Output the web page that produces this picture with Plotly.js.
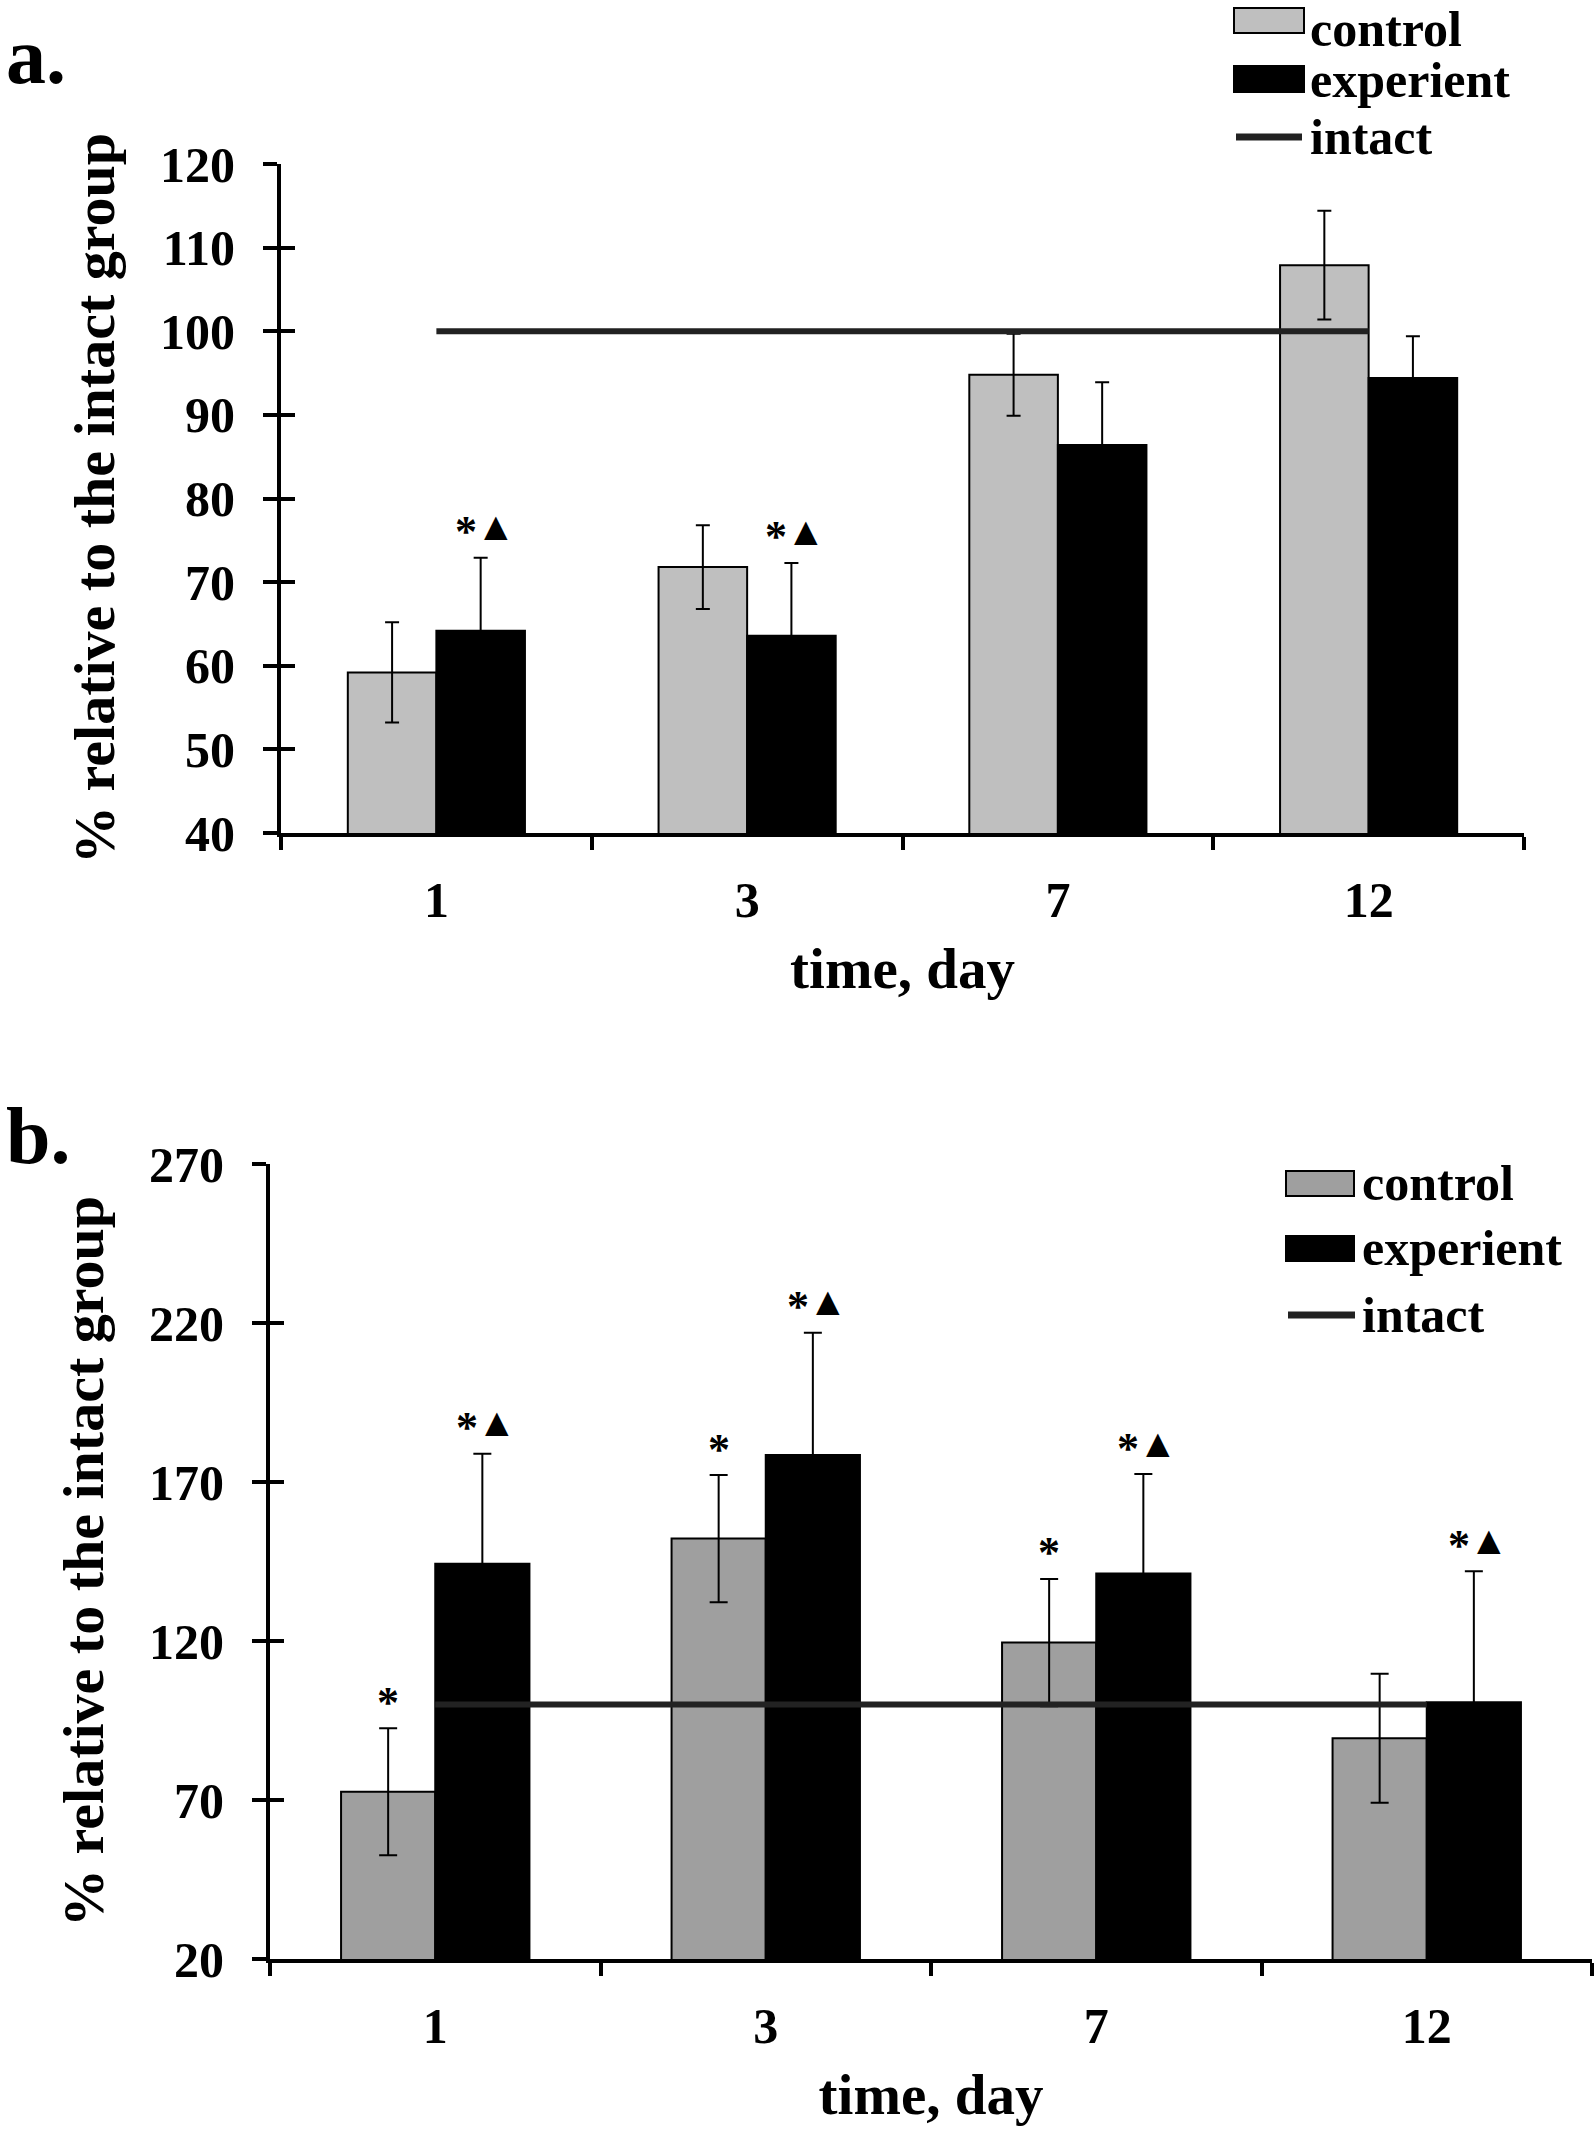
<!DOCTYPE html>
<html>
<head>
<meta charset="utf-8">
<script src="https://cdn.plot.ly/plotly-3.0.1.min.js"></script>
<style>html,body{margin:0;padding:0;background:#fff;}#chart{width:1594px;height:2132px;}</style>
</head>
<body>
<div id="chart"></div>
<script>
// ---- data ----
const days = ['1', '3', '7', '12'];
const seriesNames = ['control', 'experient', 'intact'];

const controlA = [59.2, 71.8, 94.8, 107.9];
const controlAErr = [6.0, 5.0, 4.9, 6.5];
const experientA = [64.2, 63.6, 86.4, 94.4];
const experientAErr = [8.7, 8.7, 7.5, 5.0];
const intactA = [100, 100, 100, 100];
const controlAMarks = ['', '', '', ''];
const experientAMarks = ['*▲', '*▲', '', ''];

const controlB = [72.6, 152.2, 119.5, 89.4];
const controlBErr = [20.0, 20.0, 20.0, 20.3];
const experientB = [144.3, 178.5, 141.2, 100.7];
const experientBErr = [34.6, 38.4, 31.3, 41.2];
const intactB = [100, 100, 100, 100];
const controlBMarks = ['*', '*', '*', ''];
const experientBMarks = ['*▲', '*▲', '*▲', '*▲'];

const yTitle = '% relative to the intact group';
const xTitle = 'time, day';
const panelLabels = ['a.', 'b.'];

// ---- layout geometry (pixels) ----
const W = 1594, H = 2132;
const px = v => v / W;
const py = v => 1 - v / H;
const BARGAP = 0.43;
const FONT = 'Liberation Serif';

const A = {x0: 281, x1: 1524, yTop: 164, yBot: 833};
const B = {x0: 270, x1: 1592, yTop: 1164, yBot: 1959};

function barTrace(name, x, y, err, color, xa, ya, capw) {
  return {
    type: 'bar', name: name, x: x, y: y, xaxis: xa, yaxis: ya,
    marker: {color: color, line: {color: '#000', width: 2}},
    error_y: {type: 'data', array: err, visible: true, color: '#000', thickness: 2, width: capw},
    showlegend: false, hoverinfo: 'x+y'
  };
}
function lineTrace(name, x, y, xa, ya) {
  return {type: 'scatter', mode: 'lines', name: name, x: x, y: y, xaxis: xa, yaxis: ya,
    line: {color: '#222', width: 6}, showlegend: false};
}

const data = [
  barTrace(seriesNames[0], days, controlA, controlAErr, '#bfbfbf', 'x', 'y', 7),
  barTrace(seriesNames[1], days, experientA, experientAErr, '#000000', 'x', 'y', 7),
  lineTrace(seriesNames[2], days, intactA, 'x', 'y'),
  barTrace(seriesNames[0], days, controlB, controlBErr, '#9f9f9f', 'x2', 'y2', 9),
  barTrace(seriesNames[1], days, experientB, experientBErr, '#000000', 'x2', 'y2', 9),
  lineTrace(seriesNames[2], days, intactB, 'x2', 'y2'),
  {type: 'scatter', x: [], y: [], xaxis: 'x', yaxis: 'y3', showlegend: false, hoverinfo: 'skip'},
  {type: 'scatter', x: [], y: [], xaxis: 'x2', yaxis: 'y4', showlegend: false, hoverinfo: 'skip'}
];

function xAxis(g, anchor, standoff) {
  return {
    domain: [px(g.x0), px(g.x1)], anchor: anchor, type: 'category',
    categoryorder: 'array', categoryarray: days, range: [-0.5, days.length - 0.5],
    tickson: 'boundaries', ticks: 'outside', ticklen: 13, tickwidth: 4, tickcolor: '#000',
    showline: true, linewidth: 4, linecolor: '#000', showgrid: false, zeroline: false,
    tickfont: {size: 50}, ticklabelstandoff: 20,
    title: {text: xTitle, font: {size: 57}, standoff: standoff},
    automargin: false
  };
}
function yAxis(g, anchor, range, dtick, standoff) {
  return {
    domain: [py(g.yBot), py(g.yTop)], anchor: anchor, range: range, dtick: dtick, tick0: range[0],
    ticks: 'outside', ticklen: 14, tickwidth: 4, tickcolor: '#000',
    showline: true, linewidth: 4, linecolor: '#000', showgrid: false, zeroline: false,
    tickfont: {size: 50}, ticklabelstandoff: 18,
    title: {text: yTitle, font: {size: 58}, standoff: standoff},
    automargin: false
  };
}
function yOverlay(base, anchor, range, dtick) {
  return {overlaying: base, anchor: anchor, range: range, dtick: dtick, tick0: range[0],
    ticks: 'inside', ticklen: 14, tickwidth: 4, tickcolor: '#000',
    showline: false, showgrid: false, zeroline: false, showticklabels: false};
}

const rangeA = [40, 120], rangeB = [20, 270];

// significance marks above the error bars (x given as category index)
function marks(g, xa, ya, vals, errs, labels, side) {
  const groupW = (g.x1 - g.x0) / days.length;
  const off = groupW * (1 - BARGAP) / 4;
  const out = [];
  labels.forEach((t, i) => {
    if (!t) return;
    const glyphs = Array.from(t);
    const n = glyphs.length;
    glyphs.forEach((ch, k) => {
      const isTri = ch === '▲';
      out.push({xref: xa, yref: ya, x: i, y: vals[i] + errs[i], text: ch,
        showarrow: false, xanchor: 'center', yanchor: 'middle',
        xshift: side * off + (k - (n - 1) / 2) * 30,
        yshift: isTri ? 31 : 26,
        font: {size: isTri ? 40 : 44, color: '#000'}});
    });
  });
  return out;
}

function legend(rows) {
  const shapes = [], ann = [];
  rows.forEach(r => {
    if (r.kind === 'bar') {
      shapes.push({type: 'rect', xref: 'paper', yref: 'paper', x0: px(r.sx0), x1: px(r.sx1),
        y0: py(r.sy1), y1: py(r.sy0), fillcolor: r.color, line: {color: '#000', width: 2}});
    } else {
      shapes.push({type: 'line', xref: 'paper', yref: 'paper', x0: px(r.sx0), x1: px(r.sx1),
        y0: py(r.ty), y1: py(r.ty), line: {color: '#222', width: 7}});
    }
    ann.push({xref: 'paper', yref: 'paper', x: px(r.tx), y: py(r.ty), text: r.name, showarrow: false,
      xanchor: 'left', yanchor: 'middle', font: {size: 50, color: '#000'}});
  });
  return {shapes, ann};
}

const legA = legend([
  {kind: 'bar', name: seriesNames[0], color: '#bfbfbf', sx0: 1234, sx1: 1304, sy0: 8, sy1: 33, tx: 1308, ty: 29},
  {kind: 'bar', name: seriesNames[1], color: '#000000', sx0: 1234, sx1: 1304, sy0: 66, sy1: 92, tx: 1308, ty: 80},
  {kind: 'line', name: seriesNames[2], sx0: 1236, sx1: 1302, tx: 1308, ty: 137}
]);
const legB = legend([
  {kind: 'bar', name: seriesNames[0], color: '#9f9f9f', sx0: 1286, sx1: 1354, sy0: 1171, sy1: 1196, tx: 1360, ty: 1183},
  {kind: 'bar', name: seriesNames[1], color: '#000000', sx0: 1286, sx1: 1354, sy0: 1236, sy1: 1261, tx: 1360, ty: 1248},
  {kind: 'line', name: seriesNames[2], sx0: 1288, sx1: 1355, tx: 1360, ty: 1315}
]);

const annotations = [].concat(
  marks(A, 'x', 'y', controlA, controlAErr, controlAMarks, -1),
  marks(A, 'x', 'y', experientA, experientAErr, experientAMarks, 1),
  marks(B, 'x2', 'y2', controlB, controlBErr, controlBMarks, -1),
  marks(B, 'x2', 'y2', experientB, experientBErr, experientBMarks, 1),
  legA.ann, legB.ann,
  [
    {xref: 'paper', yref: 'paper', x: px(4), y: py(56), text: panelLabels[0], showarrow: false,
      xanchor: 'left', yanchor: 'middle', font: {size: 80, color: '#000'}},
    {xref: 'paper', yref: 'paper', x: px(4), y: py(1136), text: panelLabels[1], showarrow: false,
      xanchor: 'left', yanchor: 'middle', font: {size: 80, color: '#000'}}
  ]
);

const layout = {
  width: W, height: H,
  margin: {l: 0, r: 0, t: 0, b: 0, pad: 0},
  paper_bgcolor: '#fff', plot_bgcolor: '#fff',
  font: {family: FONT, weight: 'bold', color: '#000', size: 47},
  barmode: 'group', bargap: BARGAP, bargroupgap: 0,
  showlegend: false,
  xaxis: xAxis(A, 'y', 22),
  yaxis: yAxis(A, 'x', rangeA, 10, 28),
  yaxis3: yOverlay('y', 'x', rangeA, 10),
  xaxis2: xAxis(B, 'y2', 22),
  yaxis2: yAxis(B, 'x2', rangeB, 50, 28),
  yaxis4: yOverlay('y2', 'x2', rangeB, 50),
  shapes: legA.shapes.concat(legB.shapes),
  annotations: annotations
};

Plotly.newPlot('chart', data, layout, {staticPlot: true, displayModeBar: false});
</script>
</body>
</html>
